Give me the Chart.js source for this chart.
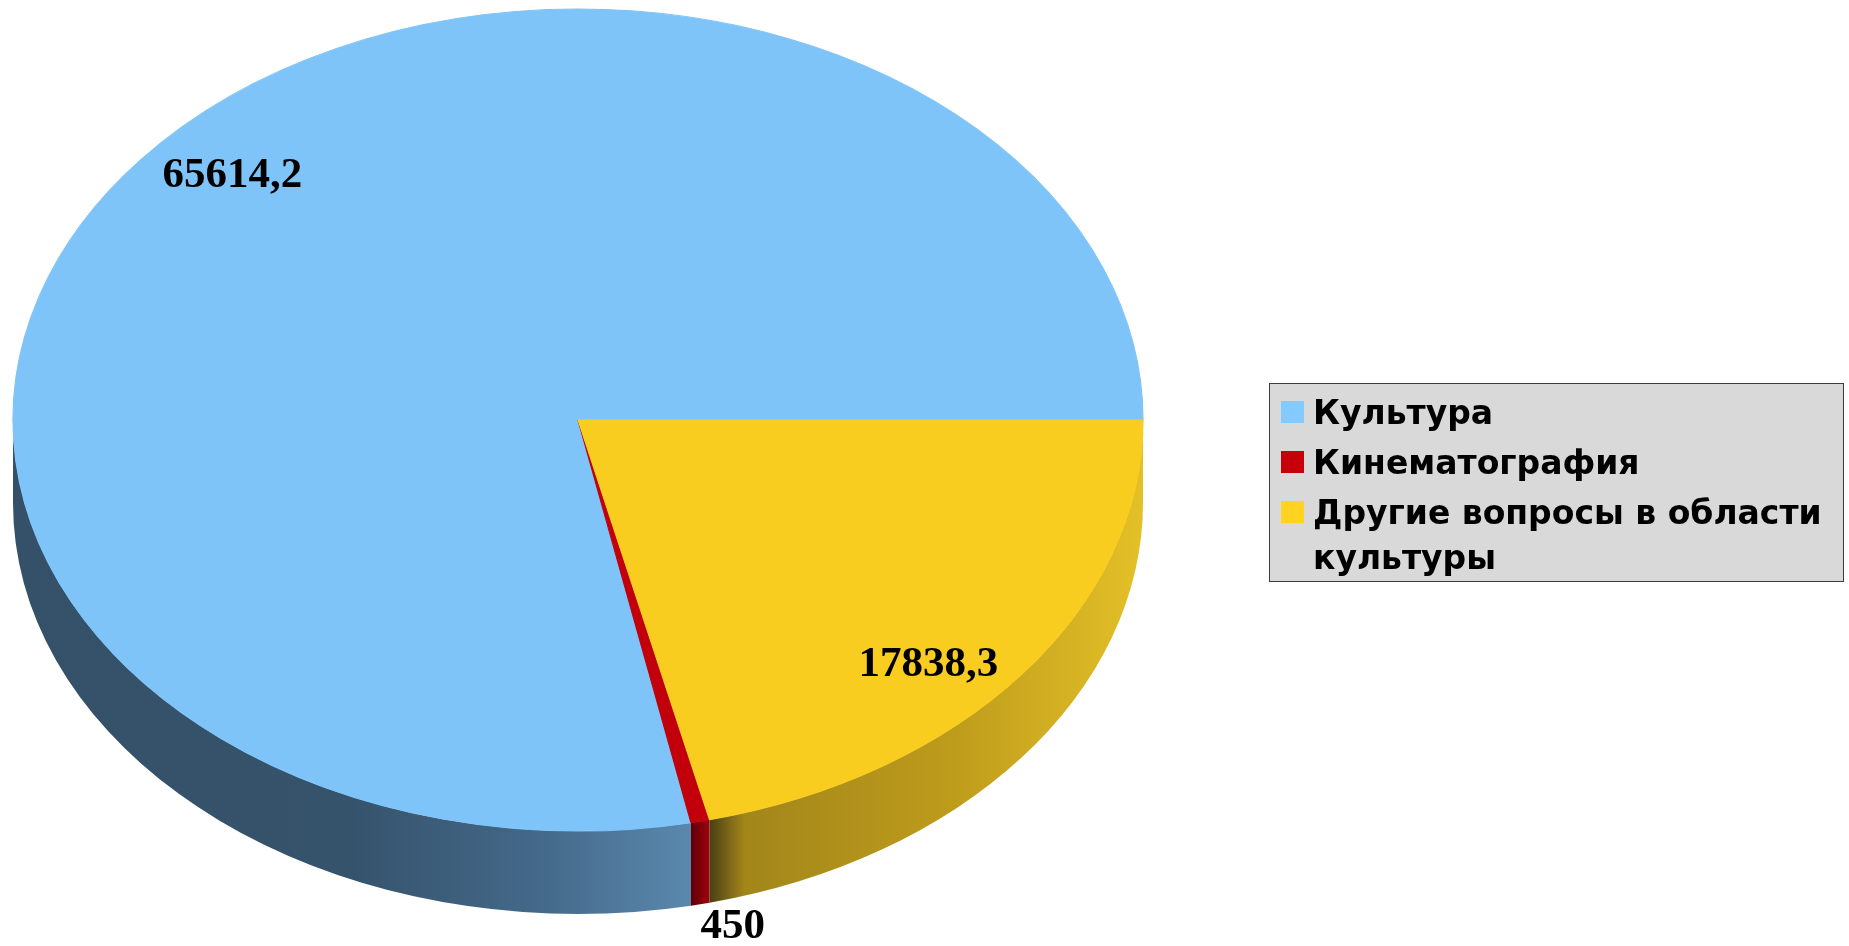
<!DOCTYPE html>
<html>
<head>
<meta charset="utf-8">
<script src="https://cdn.jsdelivr.net/npm/chart.js@4.4.1/dist/chart.umd.min.js"></script>
<style>
    html, body { margin: 0; padding: 0; background: #ffffff; }
    #wrap { width: 1849px; height: 946px; }
</style>
</head>
<body>
<div id="wrap"><canvas id="culture-pie"></canvas></div>
<script>
// Данные диаграммы
const categories = ['Культура', 'Кинематография', 'Другие вопросы в области культуры'];
const values = [65614.2, 450, 17838.3];

// цвета: верх секторов, маркеры легенды, боковые стенки
const topColors = ['#7fc4f8', '#c2000b', '#f8cd20'];
const legendColors = ['#83caff', '#c5000b', '#ffd320'];
const sideStops = [
    [[0, '#35516a'], [0.5, '#36536c'], [0.78, '#44698a'], [1, '#5a88ad']],
    [[0, '#5c0008'], [1, '#a0000c']],
    [[0, '#4a3f14'], [0.08, '#a2861a'], [0.55, '#bd9b1b'], [1, '#e4c028']]
];

// геометрия "объёмного" эллипса
const view = { cx: 578, cy: 420, rx: 565, ry: 411, depth: 83 };

function formatValue(v) {
    return String(v).replace('.', ',');
}

const pie3d = {
    id: 'pie3d',
    beforeDatasetsDraw(chart) {
        const ctx = chart.ctx;
        const arcs = chart.getDatasetMeta(0).data;
        const TWO_PI = Math.PI * 2;

        // боковые стенки (видна только передняя половина)
        arcs.forEach(function (arc, i) {
            const lo = Math.max(arc.startAngle, Math.PI);
            const hi = Math.min(arc.endAngle, TWO_PI);
            if (hi <= lo) return;
            const p1 = TWO_PI - hi, p2 = TWO_PI - lo;
            const xl = view.cx + view.rx * Math.cos(p2);
            const xr = view.cx + view.rx * Math.cos(p1);
            const grad = ctx.createLinearGradient(xl, 0, xr, 0);
            sideStops[i].forEach(s => grad.addColorStop(s[0], s[1]));
            ctx.beginPath();
            ctx.ellipse(view.cx, view.cy, view.rx, view.ry, 0, p1, p2);
            ctx.ellipse(view.cx, view.cy + view.depth, view.rx, view.ry, 0, p2, p1, true);
            ctx.closePath();
            ctx.fillStyle = grad;
            ctx.fill();
        });

        // верхняя грань: круг -> эллипс, обход против часовой стрелки
        const a = arcs[0];
        ctx.save();
        ctx.translate(view.cx, view.cy);
        ctx.scale(view.rx / a.outerRadius, -view.ry / a.outerRadius);
        ctx.translate(-a.x, -a.y);
    },
    afterDatasetsDraw(chart) {
        const ctx = chart.ctx;
        ctx.restore();
        const arcs = chart.getDatasetMeta(0).data;
        const vals = chart.data.datasets[0].data;

        // подписи значений
        ctx.save();
        ctx.fillStyle = '#000000';
        ctx.font = 'bold 43px "Liberation Serif", "Times New Roman", serif';
        ctx.textAlign = 'center';
        ctx.textBaseline = 'alphabetic';
        arcs.forEach(function (arc, i) {
            const mid = -(arc.startAngle + arc.endAngle) / 2;
            const small = (arc.endAngle - arc.startAngle) < 0.2;
            const kx = small ? 1.265 : 0.79;
            const ky = small ? 1.255 : 0.95;
            const x = view.cx + kx * view.rx * Math.cos(mid);
            const y = view.cy + ky * view.ry * Math.sin(mid);
            ctx.fillText(formatValue(vals[i]), x, y + 14);
        });
        ctx.restore();

        // легенда
        const box = { x: 1269.5, y: 383.5, w: 574, h: 198 };
        ctx.save();
        ctx.fillStyle = '#d9d9d9';
        ctx.fillRect(box.x, box.y, box.w, box.h);
        ctx.strokeStyle = '#3c3c3c';
        ctx.lineWidth = 1;
        ctx.strokeRect(box.x, box.y, box.w, box.h);
        ctx.font = 'bold 33px "DejaVu Sans", sans-serif';
        ctx.textAlign = 'left';
        ctx.textBaseline = 'alphabetic';
        const maxW = box.x + box.w - 1313 - 6;
        let base = 424;
        chart.data.labels.forEach(function (label, i) {
            ctx.fillStyle = legendColors[i];
            ctx.fillRect(1281, base - 23, 23, 22);
            ctx.fillStyle = '#000000';
            // перенос длинной подписи
            const words = label.split(' ');
            const lines = [];
            let cur = '';
            words.forEach(function (w) {
                const test = cur ? cur + ' ' + w : w;
                if (cur && ctx.measureText(test).width > maxW) {
                    lines.push(cur);
                    cur = w;
                } else {
                    cur = test;
                }
            });
            lines.push(cur);
            lines.forEach(function (ln, j) {
                ctx.fillText(ln, 1313, base + j * 45);
            });
            base += 50 + (lines.length - 1) * 45;
        });
        ctx.restore();
    }
};

const ctx = document.getElementById('culture-pie').getContext('2d');
const culturePie = new Chart(ctx, {
    type: 'pie',
    data: {
        labels: categories,
        datasets: [{
            data: values,
            backgroundColor: topColors,
            borderColor: topColors,
            borderWidth: 1,
            clip: false
        }]
    },
    options: {
        responsive: true,
        maintainAspectRatio: false,
        animation: false,
        events: [],
        rotation: 90,
        plugins: {
            legend: { display: false },
            tooltip: { enabled: false }
        }
    },
    plugins: [pie3d]
});
</script>
</body>
</html>
